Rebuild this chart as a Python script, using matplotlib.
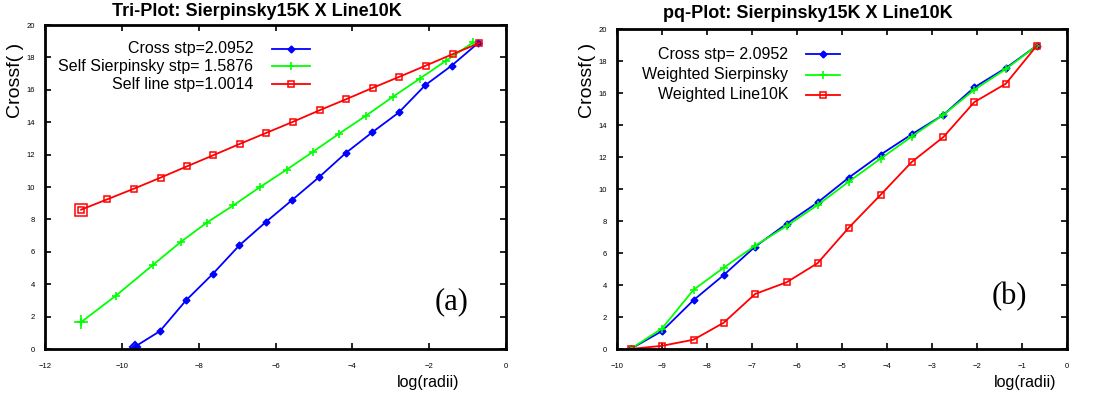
import numpy as np
import matplotlib
matplotlib.use("Agg")
import matplotlib.pyplot as plt

plt.rcParams["font.family"] = ["Liberation Sans", "DejaVu Sans"]

# ---- data ----
# (a) Tri-Plot
x_cross_a = [-9.66, -9.01, -8.33, -7.63, -6.94, -6.25, -5.56, -4.86, -4.17, -3.48, -2.79, -2.10, -1.41, -0.72]
y_cross_a = [0.14, 1.10, 3.00, 4.64, 6.40, 7.84, 9.21, 10.62, 12.10, 13.38, 14.60, 16.29, 17.50, 18.90]

x_sierp_a = [-11.06, -10.15, -9.18, -8.47, -7.79, -7.10, -6.40, -5.71, -5.02, -4.34, -3.64, -2.95, -2.25, -1.56, -0.85]
y_sierp_a = [1.66, 3.30, 5.21, 6.60, 7.80, 8.86, 10.00, 11.07, 12.18, 13.30, 14.41, 15.56, 16.68, 17.80, 18.93]

x_line_a = [-11.06, -10.38, -9.68, -8.99, -8.30, -7.62, -6.93, -6.24, -5.55, -4.85, -4.16, -3.47, -2.78, -2.08, -1.39, -0.69]
y_line_a = [8.60, 9.24, 9.90, 10.58, 11.28, 11.96, 12.66, 13.34, 14.02, 14.74, 15.42, 16.12, 16.80, 17.50, 18.20, 18.89]

# (b) pq-Plot
x_b = [-9.70, -9.00, -8.30, -7.63, -6.93, -6.23, -5.54, -4.85, -4.14, -3.45, -2.75, -2.06, -1.36, -0.67]
y_cross_b = [0.00, 1.12, 3.05, 4.62, 6.40, 7.83, 9.16, 10.71, 12.15, 13.42, 14.63, 16.35, 17.56, 18.96]
y_wsierp_b = [0.00, 1.28, 3.70, 5.08, 6.46, 7.69, 9.00, 10.46, 11.90, 13.28, 14.63, 16.20, 17.50, 18.96]
y_wline_b = [0.00, 0.20, 0.58, 1.64, 3.44, 4.17, 5.37, 7.58, 9.64, 11.69, 13.24, 15.43, 16.58, 18.96]

labels_a = ["Cross stp=2.0952", "Self Sierpinsky stp= 1.5876", "Self line stp=1.0014"]
labels_b = ["Cross stp= 2.0952", "Weighted Sierpinsky", "Weighted Line10K"]

W, H = 1102, 397
fig = plt.figure(figsize=(W / 100, H / 100), dpi=100)

blue, green, red = "#0000ff", "#00ff00", "#ff0000"
LW = 1.3
styles = [
    dict(color=blue, marker="D", ms=3.5, mfc=blue, mec=blue),
    dict(color=green, marker="+", ms=6, mew=1.2),
    dict(color=red, marker="s", ms=5, mfc="none", mec=red, mew=1.1),
]


def style_axes(ax, xmin, xmax, xstep):
    ax.set_xlim(xmin, xmax)
    ax.set_ylim(0, 20)
    ax.set_xticks(np.arange(xmin, xmax + 0.01, xstep))
    ax.set_yticks(np.arange(0, 21, 2))
    ax.tick_params(direction="in", top=True, right=True, labelsize=5.5,
                   length=4, width=1.2)
    ax.tick_params(axis="x", pad=10)
    ax.tick_params(axis="y", pad=7)
    for s in ax.spines.values():
        s.set_linewidth(2)


def legend_rows(labels, x_text, x0, x1, ys):
    for lab, st, yy in zip(labels, styles, ys):
        yf = 1 - yy / H
        fig.text(x_text / W, yf, lab, ha="right", va="center", fontsize=11.5)
        ln = plt.Line2D([x0 / W, (x0 + x1) / 2 / W, x1 / W], [yf] * 3,
                        transform=fig.transFigure, lw=LW, markevery=[1], **st)
        fig.lines.append(ln)


# ---- panel (a) ----
axa = fig.add_axes([45 / W, 1 - 349 / H, 461 / W, 324 / H])
series_a = [(x_cross_a, y_cross_a), (x_sierp_a, y_sierp_a), (x_line_a, y_line_a)]
for (xs, ys), st in zip(series_a, styles):
    axa.plot(xs, ys, lw=LW, **st)
    big = dict(st)
    big["ms"] = st["ms"] * 1.6
    if st["marker"] == "D":
        big["mfc"] = "none"
        big["mew"] = 1.5
    axa.plot(xs[:1], ys[:1], lw=0, **big)
style_axes(axa, -12, 0, 2)
axa.text(0.881, 0.145, "(a)", transform=axa.transAxes, ha="center", va="center",
         fontsize=22, family="Liberation Serif")
fig.text(257 / W, 1 - 12 / H, "Tri-Plot: Sierpinsky15K X Line10K", ha="center", va="center",
         fontsize=13, fontweight="bold")
fig.text(16 / W, 1 - 80 / H, "Crossf( )", rotation=90, ha="center", va="center", fontsize=14)
fig.text(428 / W, 1 - 383 / H, "log(radii)", ha="center", va="center", fontsize=11.5)
legend_rows(labels_a, 253, 272, 310, [49, 66, 84])

# ---- panel (b) ----
axb = fig.add_axes([617 / W, 1 - 349 / H, 450 / W, 320 / H])
series_b = [y_cross_b, y_wsierp_b, y_wline_b]
for ys, st in zip(series_b, styles):
    axb.plot(x_b, ys, lw=LW, **st)
style_axes(axb, -10, 0, 1)
axb.text(0.871, 0.1625, "(b)", transform=axb.transAxes, ha="center", va="center",
         fontsize=22, family="Liberation Serif")
fig.text(808 / W, 1 - 14 / H, "pq-Plot: Sierpinsky15K X Line10K", ha="center", va="center",
         fontsize=13, fontweight="bold")
fig.text(588 / W, 1 - 80 / H, "Crossf( )", rotation=90, ha="center", va="center", fontsize=14)
fig.text(1025 / W, 1 - 383 / H, "log(radii)", ha="center", va="center", fontsize=11.5)
legend_rows(labels_b, 788, 806, 840, [54, 75, 95])

fig.savefig("out.png", dpi=100)
